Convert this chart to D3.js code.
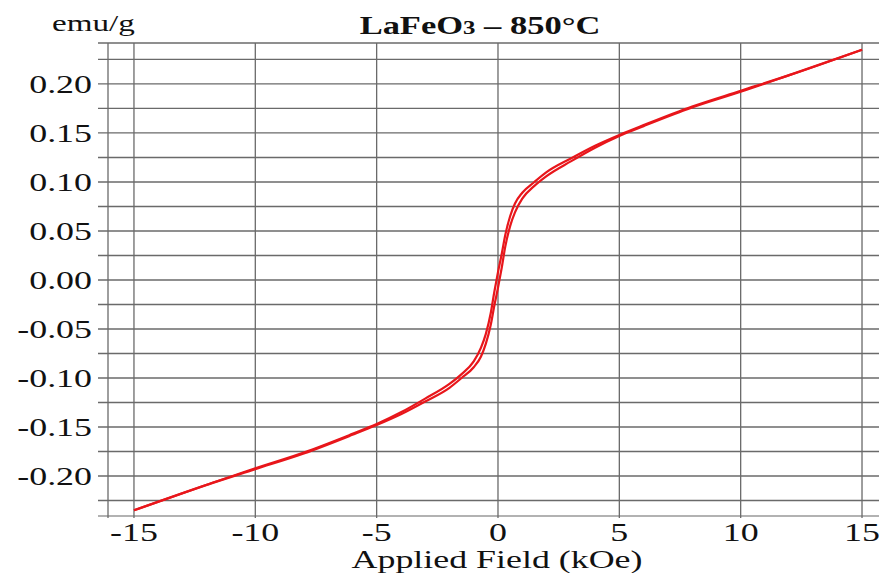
<!DOCTYPE html>
<html>
<head>
<meta charset="utf-8">
<script src="https://cdn.jsdelivr.net/npm/d3@7"></script>
<style>
  body { margin: 0; background: #fff; }
  text { font-family: "Liberation Serif", "Times New Roman", serif; fill: #111; }
</style>
</head>
<body>
<svg id="chart"></svg>
<script>
// applied field (kOe)
var field = [-15, -12, -10, -8, -6, -5, -4, -3, -2, -1.5, -1, -0.7, -0.5, -0.3, -0.15, 0,
             0.15, 0.3, 0.5, 0.7, 1, 1.5, 2, 3, 4, 5, 6, 8, 10, 12, 15];
// descending branch (emu/g)
var descending = [-0.235, -0.209, -0.192, -0.176, -0.157, -0.147, -0.135, -0.121, -0.106, -0.096, -0.083, -0.069, -0.055, -0.034, -0.012, 0.008,
                  0.026, 0.046, 0.065, 0.078, 0.089, 0.100, 0.110, 0.124, 0.137, 0.148, 0.158, 0.177, 0.193, 0.209, 0.235];
// ascending branch (emu/g)
var ascending = [-0.235, -0.209, -0.193, -0.177, -0.158, -0.148, -0.137, -0.124, -0.110, -0.100, -0.089, -0.078, -0.065, -0.046, -0.026, -0.008,
                 0.012, 0.034, 0.055, 0.069, 0.083, 0.096, 0.106, 0.121, 0.135, 0.147, 0.157, 0.176, 0.192, 0.209, 0.235];

var xTicks = [-15, -10, -5, 0, 5, 10, 15];
var yTicks = [-0.20, -0.15, -0.10, -0.05, 0.00, 0.05, 0.10, 0.15, 0.20];
var yMinor = [-0.225, -0.175, -0.125, -0.075, -0.025, 0.025, 0.075, 0.125, 0.175, 0.225];

// the original picture is a bit stretched sideways, so is the text
var stretch = 1.38;

function place(px, py) {
    return "translate(" + px + "," + py + ") scale(" + stretch + ",1)";
}

function drawChart() {
    var width = 879;
    var height = 573;
    var left = 108, right = 879, top = 43, bottom = 516;

    var svg = d3.select("#chart")
        .attr("width", width)
        .attr("height", height);

    var x = d3.scaleLinear()
        .domain([-16.07, 15.70])
        .range([left, right]);

    var y = d3.scaleLinear()
        .domain([-0.2408, 0.2418])
        .range([bottom, top]);

    var grid = svg.append("g")
        .attr("stroke", "#6a6a6a")
        .attr("stroke-width", 1.3);

    // horizontal lines, major and minor
    grid.selectAll(".hline")
        .data(yTicks.concat(yMinor))
        .enter()
        .append("line")
        .attr("x1", left - 10)
        .attr("x2", right)
        .attr("y1", d => y(d))
        .attr("y2", d => y(d));

    // frame top / bottom
    grid.append("line")
        .attr("x1", left - 10).attr("x2", right)
        .attr("y1", top).attr("y2", top);
    grid.append("line")
        .attr("x1", left - 10).attr("x2", right)
        .attr("y1", bottom).attr("y2", bottom)
        .attr("stroke", "#999");

    // vertical lines
    grid.selectAll(".vline")
        .data(xTicks)
        .enter()
        .append("line")
        .attr("x1", d => x(d))
        .attr("x2", d => x(d))
        .attr("y1", top)
        .attr("y2", bottom + 2);

    grid.append("line")
        .attr("x1", left).attr("x2", left)
        .attr("y1", top).attr("y2", bottom + 2);

    // tick labels
    svg.append("g")
        .selectAll("text")
        .data(yTicks)
        .enter()
        .append("text")
        .attr("transform", d => place(92, y(d) + 9))
        .attr("text-anchor", "end")
        .attr("font-size", 26)
        .text(d => d3.format(".2f")(d).replace("−", "-"));

    svg.append("g")
        .selectAll("text")
        .data(xTicks)
        .enter()
        .append("text")
        .attr("transform", d => place(x(d), 541))
        .attr("text-anchor", "middle")
        .attr("font-size", 26)
        .text(d => String(d));

    // hysteresis loop
    var line = d3.line()
        .x((d, i) => x(field[i]))
        .y(d => y(d))
        .curve(d3.curveMonotoneX);

    svg.selectAll(".branch")
        .data([descending, ascending])
        .enter()
        .append("path")
        .classed("branch", true)
        .attr("fill", "none")
        .attr("stroke", "#e8161b")
        .attr("stroke-width", 2.2)
        .attr("d", line);

    // titles
    svg.append("text")
        .attr("transform", place(52, 31))
        .attr("font-size", 24)
        .text("emu/g");

    var title = svg.append("text")
        .attr("transform", place(480, 34))
        .attr("text-anchor", "middle")
        .attr("font-size", 25)
        .attr("font-weight", "bold");
    title.append("tspan").text("LaFeO");
    title.append("tspan").attr("font-size", 18).text("3");
    title.append("tspan").text(" – 850°C");

    svg.append("text")
        .attr("transform", place(497, 568))
        .attr("text-anchor", "middle")
        .attr("font-size", 26)
        .text("Applied Field (kOe)");
}

drawChart();
</script>
</body>
</html>
